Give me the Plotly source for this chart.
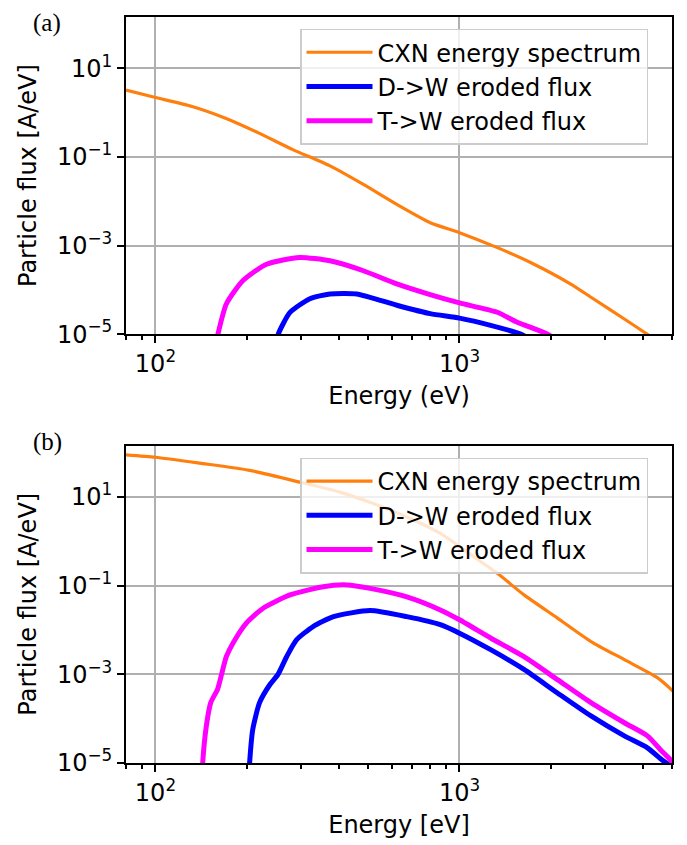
import plotly.graph_objects as go
import math

# ---------------- data ----------------
# Panel (a)
a_cxn_E = [80, 100, 132, 170, 219, 283, 375, 483, 622, 801, 1000, 1332, 1713, 2323, 2707, 3485, 4140, 5000]
a_cxn_F = [3.24, 2.2, 1.38, 0.75, 0.346, 0.147, 0.063, 0.024, 0.0085, 0.00329, 0.00196, 9.0e-4, 4.15e-4,
           1.35e-4, 6.8e-5, 2.2e-5, 1.0e-5, 4.0e-6]
a_d_E = [250, 253.5, 277, 322, 375, 459, 622, 801, 1000, 1266, 1590, 1750]
a_d_F = [6e-6, 1.0e-5, 3.1e-5, 6.3e-5, 8.1e-5, 8.1e-5, 4.5e-5, 2.9e-5, 2.3e-5, 1.58e-5, 1.0e-5, 7e-6]
a_t_E = [158, 160.5, 171, 194, 232, 298, 375, 483, 622, 801, 1000, 1332, 1549, 1950, 2100]
a_t_F = [6e-6, 1.0e-5, 4.8e-5, 1.62e-4, 3.8e-4, 5.4e-4, 4.53e-4, 2.7e-4, 1.36e-4, 7.8e-5, 5.07e-5, 3.12e-5,
         1.86e-5, 1.0e-5, 7e-6]

# Panel (b)
b_cxn_E = [80, 100, 140, 204, 298, 404, 521, 671, 865, 1114, 1332, 1630, 2100, 2707, 3485, 4487, 5035]
b_cxn_F = [89.7, 79, 58, 40, 21.7, 12.9, 7.1, 3.55, 1.51, 0.45, 0.19, 0.062, 0.0186, 0.0055, 0.00214, 8.3e-4,
           4.2e-4]
b_d_E = [203, 204, 209, 220, 238, 253, 270, 291, 330, 385, 508, 671, 865, 1000, 1266, 1630, 2100, 2707,
         3485, 4150, 4640, 4800, 5100]
b_d_F = [5e-6, 1.0e-5, 5.8e-5, 2.3e-4, 5.9e-4, 1.0e-3, 2.5e-3, 6.0e-3, 0.012, 0.020, 0.0275, 0.020,
         0.0132, 0.0085, 0.0036, 0.00129, 3.8e-4, 1.15e-4, 4.1e-5, 2.2e-5, 1.17e-5, 1.0e-5, 7e-6]
b_t_E = [142.5, 143, 147, 152, 160, 165, 171, 180, 199, 226, 277, 356, 426, 508, 671, 865, 1000, 1266,
         1630, 2100, 2707, 3485, 4150, 4580, 4950, 5035]
b_t_F = [5e-6, 1.0e-5, 6.8e-5, 2.3e-4, 4.6e-4, 1.0e-3, 2.5e-3, 5.1e-3, 0.0143, 0.031, 0.0618, 0.095, 0.104,
         0.087, 0.056, 0.0284, 0.017, 0.0066, 0.0025, 7.6e-4, 2.3e-4, 8.1e-5, 4.1e-5, 2.0e-5, 1.17e-5, 1.0e-5]

series_names = ["CXN energy spectrum", "D->W eroded flux", "T->W eroded flux"]
x_tick_vals = [100, 1000]
x_tick_text = ["10<sup>2</sup>", "10<sup>3</sup>"]
x_minor_vals = [80, 90, 200, 300, 400, 500, 600, 700, 800, 900, 2000, 3000, 4000, 5000]
y_tick_vals = [10, 0.1, 0.001, 0.00001]
y_tick_text = ["10<sup>1</sup>", "10<sup>−1</sup>", "10<sup>−3</sup>", "10<sup>−5</sup>"]
x_range = [80, 5000]
y_range = [1e-5, 145]
x_titles = ["Energy (eV)", "Energy [eV]"]
y_title = "Particle flux [A/eV]"
panel_labels = ["(a)", "(b)"]

# ---------------- style ----------------
FONT = "DejaVu Sans"
FS = 24
colors = ["#ff7f0e", "#0000ff", "#ff00ff"]
widths = [3.2, 5, 5]

fig = go.Figure()

panels = [
    (a_cxn_E, a_cxn_F, a_d_E, a_d_F, a_t_E, a_t_F),
    (b_cxn_E, b_cxn_F, b_d_E, b_d_F, b_t_E, b_t_F),
]
for p, data in enumerate(panels):
    xs = [data[0], data[2], data[4]]
    ys = [data[1], data[3], data[5]]
    for k in range(3):
        fig.add_trace(go.Scatter(
            x=xs[k], y=ys[k], mode="lines", name=series_names[k],
            line=dict(color=colors[k], width=widths[k], shape="spline", smoothing=0.6),
            xaxis="x" if p == 0 else "x2", yaxis="y" if p == 0 else "y2",
            legend="legend" if p == 0 else "legend2",
        ))

# page has an 8px body margin -> shrink figure & shift margins accordingly
OFF = 8
W, H = 687 - OFF, 845 - OFF
ml, mr, mt, mb = 126 - OFF, 15, 15 - OFF, 82
ph = H - mt - mb          # 748
pw = W - ml - mr          # 546
BOT = 763.3               # page y of panel (b) bottom spine
LEFT = 126                # page x of left spine


def py(ypage):
    return (BOT - ypage) / ph


def px(xpage):
    return (xpage - LEFT) / pw


dom_a = [py(333.3), 1.0]
dom_b = [0.0, py(445)]


def xaxis(title, anchor):
    return dict(
        type="log", range=[math.log10(x_range[0]), math.log10(x_range[1])],
        tickmode="array", tickvals=x_tick_vals, ticktext=x_tick_text,
        ticks="outside", ticklen=7, tickwidth=2, tickcolor="black",
        showgrid=True, gridcolor="#b0b0b0", gridwidth=1.8,
        showline=True, linecolor="black", linewidth=2, mirror=True,
        zeroline=False, anchor=anchor,
        tickfont=dict(family=FONT, size=FS, color="black"),
        title=dict(text=title, font=dict(family=FONT, size=FS, color="black"), standoff=10),
        minor=dict(tickmode="array", tickvals=x_minor_vals, ticks="outside", ticklen=4,
                   tickwidth=1.5, tickcolor="black", showgrid=False),
    )


def yaxis(dom, anchor):
    return dict(
        type="log", range=[math.log10(y_range[0]), math.log10(y_range[1])], domain=dom,
        tickmode="array", tickvals=y_tick_vals, ticktext=y_tick_text,
        ticks="outside", ticklen=7, tickwidth=2, tickcolor="black",
        showgrid=True, gridcolor="#b0b0b0", gridwidth=1.8,
        showline=True, linecolor="black", linewidth=2, mirror=True,
        zeroline=False, anchor=anchor,
        tickfont=dict(family=FONT, size=FS, color="black"),
        title=dict(text=y_title, font=dict(family=FONT, size=FS, color="black"), standoff=13),
    )


def legend(ytop):
    return dict(
        x=px(300), xanchor="left", y=ytop, yanchor="top",
        bgcolor="rgba(255,255,255,0.8)", bordercolor="#cccccc", borderwidth=1.5,
        font=dict(family=FONT, size=FS, color="black"), itemwidth=66,
    )


fig.update_layout(
    width=W, height=H, margin=dict(l=ml, r=mr, t=mt, b=mb),
    paper_bgcolor="white", plot_bgcolor="white",
    xaxis=xaxis(x_titles[0], "y"), yaxis=yaxis(dom_a, "x"),
    xaxis2=xaxis(x_titles[1], "y2"), yaxis2=yaxis(dom_b, "x2"),
    legend=legend(py(27)),
    legend2=legend(py(457)),
    showlegend=True,
)

for lab, ypg in zip(panel_labels, [21, 441]):
    fig.add_annotation(
        text=lab, xref="paper", yref="paper", x=px(32), xanchor="left",
        y=py(ypg), yanchor="middle", showarrow=False, borderpad=0,
        font=dict(family="Liberation Serif", size=25, color="black"),
    )

fig.write_html("out.html")
